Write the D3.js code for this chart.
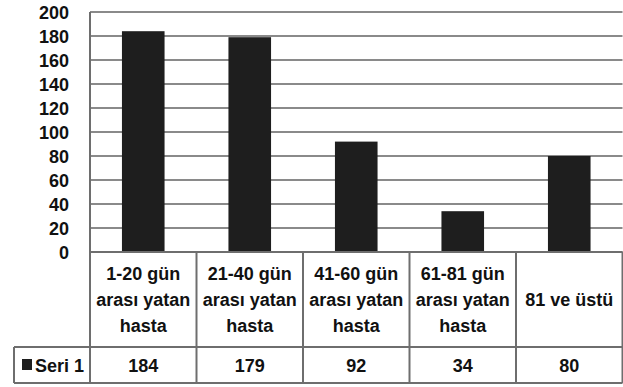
<!DOCTYPE html>
<html>
<head>
<meta charset="utf-8">
<script src="https://cdn.jsdelivr.net/npm/d3@7"></script>
<style>
  html, body { margin: 0; padding: 0; background: #fff; }
  svg text { font-family: "Liberation Sans", Arial, Helvetica, sans-serif; font-weight: bold; fill: #111; }
</style>
</head>
<body>
<svg id="chart" width="623" height="387"></svg>
<script>
// Hasta yatış süresine göre dağılım
const categories = [
  ["1-20 gün", "arası yatan", "hasta"],
  ["21-40 gün", "arası yatan", "hasta"],
  ["41-60 gün", "arası yatan", "hasta"],
  ["61-81 gün", "arası yatan", "hasta"],
  ["81 ve üstü"]
];
const seriesName = "Seri 1";
const values = [184, 179, 92, 34, 80];
const yTicks = [0, 20, 40, 60, 80, 100, 120, 140, 160, 180, 200];

const svg = d3.select("#chart");
const plotLeft = 90, plotRight = 622.5, plotTop = 12, plotBottom = 252;
const catRowBottom = 347, valRowBottom = 383, legendLeft = 14;
const fontSize = 18, lineGap = 26;

const x = d3.scaleBand()
  .domain(d3.range(categories.length))
  .range([plotLeft, plotRight])
  .padding(0);
const y = d3.scaleLinear().domain([0, 200]).range([plotBottom, plotTop]);

// horizontal gridlines
svg.append("g")
  .selectAll("line")
  .data(yTicks)
  .join("line")
  .attr("x1", plotLeft).attr("x2", plotRight)
  .attr("y1", d => y(d)).attr("y2", d => y(d))
  .attr("stroke", "#8a8a8a")
  .attr("stroke-width", 2);

// y axis labels
const yAxis = d3.axisLeft(y).tickValues(yTicks).tickSize(0).tickPadding(21);
const gy = svg.append("g").attr("transform", `translate(${plotLeft},0)`).call(yAxis);
gy.select(".domain").remove();
gy.selectAll("text")
  .attr("font-size", fontSize)
  .attr("font-family", null)
  .attr("fill", "#111")
  .attr("dy", "0.36em");

// bars
svg.append("g")
  .selectAll("rect")
  .data(values)
  .join("rect")
  .attr("x", (d, i) => x(i) + x.bandwidth() * 0.3)
  .attr("width", x.bandwidth() * 0.4)
  .attr("y", d => y(d))
  .attr("height", d => y(0) - y(d))
  .attr("fill", "#1e1e1e");

// data table
const grid = svg.append("g").attr("stroke", "#6e6e6e").attr("stroke-width", 2).attr("fill", "none");
grid.append("line").attr("x1", plotLeft).attr("x2", plotLeft).attr("y1", plotTop).attr("y2", valRowBottom);
grid.append("line").attr("x1", plotLeft).attr("x2", plotRight).attr("y1", plotBottom).attr("y2", plotBottom);
grid.append("line").attr("x1", legendLeft).attr("x2", plotRight).attr("y1", catRowBottom).attr("y2", catRowBottom);
grid.append("line").attr("x1", legendLeft).attr("x2", plotRight).attr("y1", valRowBottom).attr("y2", valRowBottom);
grid.append("line").attr("x1", legendLeft).attr("x2", legendLeft).attr("y1", catRowBottom).attr("y2", valRowBottom);
grid.selectAll("line.col")
  .data(d3.range(1, categories.length + 1))
  .join("line")
  .attr("class", "col")
  .attr("x1", i => i < categories.length ? x(i) : plotRight)
  .attr("x2", i => i < categories.length ? x(i) : plotRight)
  .attr("y1", plotBottom).attr("y2", valRowBottom);

// category labels
const rowMid = (plotBottom + catRowBottom) / 2;
const catG = svg.append("g");
categories.forEach((lines, i) => {
  const cx = x(i) + x.bandwidth() / 2;
  const t = catG.append("text").attr("text-anchor", "middle").attr("font-size", fontSize);
  lines.forEach((ln, k) => {
    const offset = (k - (lines.length - 1) / 2) * lineGap;
    t.append("tspan").attr("x", cx).attr("y", rowMid + offset + 6.5).text(ln);
  });
});

// value row
const valMid = (catRowBottom + valRowBottom) / 2;
svg.append("g")
  .selectAll("text")
  .data(values)
  .join("text")
  .attr("x", (d, i) => x(i) + x.bandwidth() / 2)
  .attr("y", valMid + 6.5)
  .attr("text-anchor", "middle")
  .attr("font-size", fontSize)
  .text(d => d);

// legend key
svg.append("rect")
  .attr("x", 22).attr("y", valMid - 6).attr("width", 10).attr("height", 11)
  .attr("fill", "#1e1e1e");
svg.append("text")
  .attr("x", 35).attr("y", valMid + 6.5)
  .attr("font-size", fontSize)
  .text(seriesName);
</script>
</body>
</html>
